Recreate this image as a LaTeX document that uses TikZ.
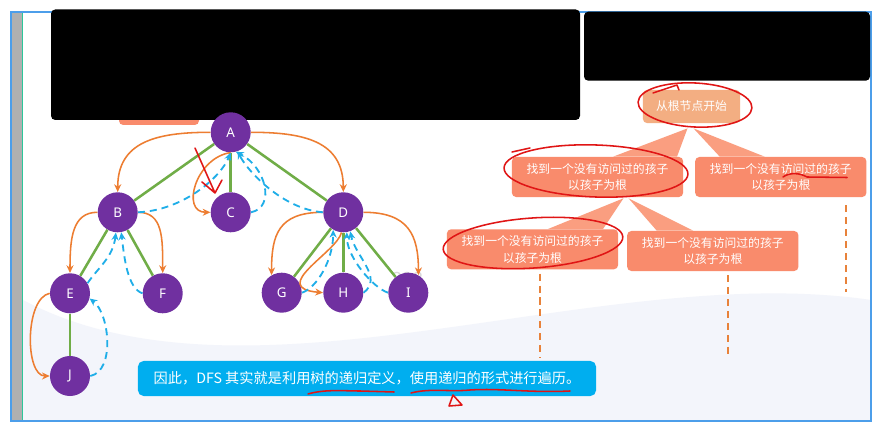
\documentclass[tikz,border=0pt]{standalone}
\usepackage{fontspec}
\setmainfont{Noto Sans CJK SC}
\newfontfamily\letterfont{Noto Sans}
\usepackage{tikz}
\usetikzlibrary{positioning,arrows.meta,calc}
\definecolor{cPurple}{HTML}{7030A0}
\definecolor{cGreen}{HTML}{70AD47}
\definecolor{cOrange}{HTML}{ED7D31}
\definecolor{cBlue}{HTML}{1FAEE8}
\definecolor{cPeach}{HTML}{F3AE82}
\definecolor{cSalmon}{HTML}{F98B6C}
\definecolor{cWedge}{HTML}{FA9E80}
\definecolor{cTrail}{HTML}{E8823A}
\definecolor{cBanner}{HTML}{00AEEF}
\definecolor{cFrame}{HTML}{4C9EEA}
\definecolor{cBar}{HTML}{B0B0B0}
\definecolor{cTeal}{HTML}{2BC79A}
\definecolor{cSky}{HTML}{F3F5FB}
\definecolor{cInk}{HTML}{E01515}

\begin{document}
\begin{tikzpicture}[x=0.025cm,y=-0.025cm,
    vtx/.style={circle,fill=cPurple,minimum size=1cm,inner sep=0pt,text=white,
                font=\letterfont\bfseries\fontsize{9.5}{10}\selectfont},
    tedge/.style={cGreen,line width=1.8pt},
    go/.style={cOrange,line width=1.1pt,-{Stealth[length=5.5pt,width=5pt]}},
    back/.style={cBlue,line width=1.3pt,dash pattern=on 5pt off 3.5pt,
                 -{Stealth[length=5.5pt,width=5pt]}},
    stepbox/.style={fill=cSalmon,rounded corners=3pt,minimum width=4.28cm,
                    minimum height=1cm,inner sep=0pt,text=white,align=center,
                    font=\fontsize{8.4}{11.8}\selectfont},
    wedge/.style={fill=cWedge},
    trail/.style={cTrail,line width=1.4pt,dash pattern=on 5pt off 3.5pt},
    ink/.style={cInk,line width=1.1pt,line cap=round,line join=round}]
  \useasboundingbox (0,0) rectangle (890,431);
  \fill[white] (0,0) rectangle (890,431);
  % slide background and frame
  \fill[cSky] (23,300) .. controls (250,420) and (600,260) .. (871,300)
    -- (871,421) -- (23,421) -- cycle;
  \fill[cBar] (12,12) rectangle (22,421);
  \draw[cTeal,line width=0.6pt] (22.5,12) -- (22.5,421);
  \draw[cFrame,line width=1.4pt] (11,12) rectangle (871,421);
  \fill[cSalmon,rounded corners=3pt] (119,100) rectangle (199,125);
  \fill[black,rounded corners=3pt] (51,9.5) rectangle (580,120);
  \fill[black,rounded corners=3pt] (584,11.7) rectangle (870,80.7);
  \node[text=gray!30,font=\fontsize{13}{14}\selectfont] (mark) at (408,279) {333};

  % tree
  \node[vtx] (A) at (230.7,132.3) {A};
  \node[vtx] (B) at (117.7,212.3) {B};
  \node[vtx] (C) at (230.7,212.3) {C};
  \node[vtx] (D) at (343.3,212.3) {D};
  \node[vtx] (E) at (70,293.3) {E};
  \node[vtx] (F) at (162.7,293.3) {F};
  \node[vtx] (G) at (281.7,292.7) {G};
  \node[vtx] (H) at (343.3,292.7) {H};
  \node[vtx] (I) at (408.3,292.7) {I};
  \node[vtx] (J) at (70,376) {J};
  \foreach \u/\v in {A/B,A/C,A/D,B/E,B/F,D/G,D/H,D/I,E/J}
    \draw[tedge] (\u) -- (\v);

  % going down
  \draw[go] (A.west) .. controls +(-55,0) and +(0,-50) .. (B.north);
  \draw[go] (A.east) .. controls +(55,0) and +(0,-50) .. (D.north);
  \draw[go] (A.south) .. controls +(-35,5) and +(-30,0) .. (C.west);
  \draw[go] (B.west) .. controls +(-25,0) and +(0,-35) .. (E.north);
  \draw[go] (B.east) .. controls +(25,0) and +(0,-35) .. (F.north);
  \draw[go] (D.west) .. controls +(-45,0) and +(0,-40) .. (G.120);
  \draw[go] (D.east) .. controls +(45,0) and +(0,-40) .. (I.60);
  \draw[go] (D.265) .. controls +(-5,20) and +(-55,-5) .. (H.west);
  \draw[go] (E.west) .. controls +(-25,5) and +(-25,0) .. (J.west);

  % coming back
  \draw[back] (J.east) .. controls +(25,-5) and +(20,15) .. (E.-15);
  \draw[back] (E.30) .. controls +(10,-15) and +(-3,25) .. (B.265);
  \draw[back] (F.west) .. controls +(-15,-5) and +(3,25) .. (B.280);
  \draw[back] (B.east) .. controls +(45,-2) and +(-10,25) .. (A.south);
  \draw[back] (C.east) .. controls +(25,-5) and +(30,15) .. (A.-75);
  \draw[back] (D.west) .. controls +(-40,-3) and +(10,20) .. (A.-70);
  \draw[back] (G.east) .. controls +(15,-5) and +(0,30) .. (D.240);
  \draw[back] (H.east) .. controls +(20,-15) and +(5,25) .. (D.-70);
  \draw[back] (I.west) .. controls +(-15,-5) and +(0,25) .. (D.-80);

  % steps
  \node[stepbox,fill=cPeach,minimum width=2.43cm,minimum height=0.83cm]
    (root) at (691.5,106.5) {从根节点开始};
  \node[stepbox] (L1a) at (597.5,177) {找到一个没有访问过的孩子\\以孩子为根};
  \node[stepbox] (L1b) at (780.8,177) {找到一个没有访问过的孩子\\以孩子为根};
  \node[stepbox] (L2a) at (532.5,249.3) {找到一个没有访问过的孩子\\以孩子为根};
  \node[stepbox] (L2b) at (712.8,251) {找到一个没有访问过的孩子\\以孩子为根};
  \fill[wedge] ($(root.south)+(-4,5)$) -- ($(L1a.north)+(15.5,0)$) -- ($(L1a.north)+(79.5,0)$) -- cycle;
  \fill[wedge] ($(root.south)+(2,5)$) -- ($(L1b.north)+(-61,0)$) -- ($(L1b.north)+(-16,0)$) -- cycle;
  \fill[wedge] ($(L1a.south)+(26,1)$) -- ($(L2a.north)+(15.5,0)$) -- ($(L2a.north)+(70.5,0)$) -- cycle;
  \fill[wedge] ($(L1a.south)+(31,1)$) -- ($(L2b.north)+(-56,0)$) -- ($(L2b.north)+(-19.5,0)$) -- cycle;
  \draw[trail] ($(L2a.south)+(7.5,4)$) -- ++(0,84);
  \draw[trail] ($(L2b.south)+(15,4)$) -- ++(0,83);
  \draw[trail] ($(L1b.south)+(65,8)$) -- ++(0,87);

  \node[fill=cBanner,rounded corners=4pt,minimum width=11.45cm,minimum height=0.875cm,
        text=white,font=\fontsize{10.1}{12}\selectfont] (note) at (367,378.5)
    {因此，DFS 其实就是利用树的递归定义，使用递归的形式进行遍历。};

  % red pen marks
  \draw[ink] (195,148) -- (215,193) (202,182) -- (215,193) -- (222,180);
  \draw[ink,rotate around={-3:(695,105)}] (695,105) ellipse [x radius=57,y radius=22];
  \draw[ink] (653,93) -- (677,85) -- (679,90);
  \draw[ink,rotate around={-2:(596,171)}] (596,171) ellipse [x radius=92,y radius=26];
  \draw[ink] (512,152) -- (530,148);
  \draw[ink,rotate around={4:(533,243)}] (533,243) ellipse [x radius=90,y radius=25];
  \draw[ink] (783,177) .. controls (790,172) and (800,173) .. (807,177) -- (847,177.5);
  \draw[ink] (308,394) .. controls (325,389) and (345,391) .. (360,391) -- (394,392);
  \draw[ink] (411,393) .. controls (430,388) and (450,392) .. (470,390)
    .. controls (500,388) and (530,393) .. (570,391);
  \draw[ink] (453,395) -- (449,406) -- (462,405) -- cycle;
\end{tikzpicture}
\end{document}
